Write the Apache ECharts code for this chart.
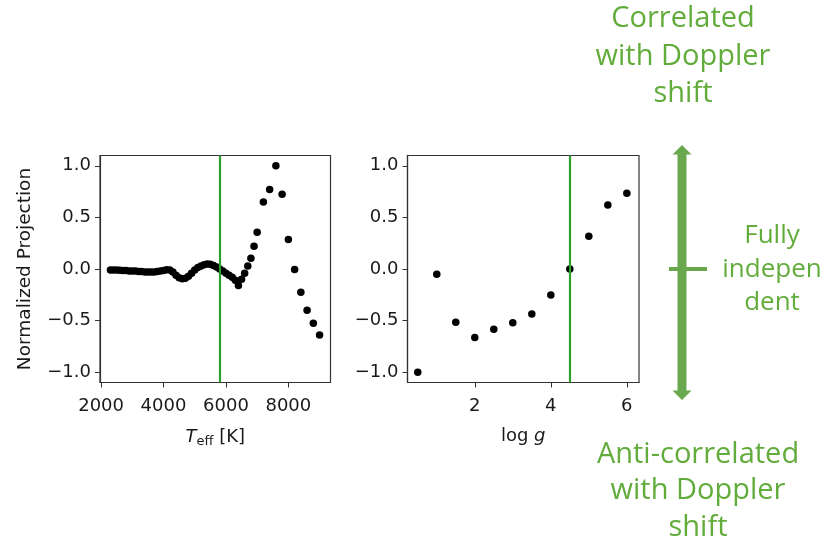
<!DOCTYPE html>
<html>
<head>
<meta charset="utf-8">
<script src="https://cdn.jsdelivr.net/npm/echarts@6/dist/echarts.min.js"></script>
<style>
  html, body { margin: 0; padding: 0; background: #fff; }
  #chart { width: 829px; height: 545px; }
</style>
</head>
<body>
<div id="chart"></div>
<script>
// effective temperature grid [K] and normalized projection
const teff = [
  2300, 2400, 2500, 2600, 2700, 2800, 2900, 3000, 3100, 3200,
  3300, 3400, 3500, 3600, 3700, 3800, 3900, 4000, 4100, 4200,
  4300, 4400, 4500, 4600, 4700, 4800, 4900, 5000, 5100, 5200,
  5300, 5400, 5500, 5600, 5700, 5800, 5900, 6000, 6100, 6200,
  6300, 6400, 6500, 6600, 6700, 6800, 6900, 7000,
  7200, 7400, 7600, 7800, 8000, 8200, 8400, 8600, 8800, 9000
];
const teffProj = [
  -0.01, -0.01, -0.01, -0.012, -0.015, -0.015, -0.02, -0.02, -0.02, -0.025,
  -0.025, -0.03, -0.03, -0.03, -0.03, -0.025, -0.02, -0.015, -0.008, -0.01,
  -0.03, -0.06, -0.085, -0.095, -0.09, -0.07, -0.04, -0.01, 0.015, 0.03,
  0.04, 0.048, 0.045, 0.035, 0.02, 0.0, -0.02, -0.04, -0.06, -0.08,
  -0.11, -0.16, -0.10, -0.04, 0.03, 0.105, 0.22, 0.355,
  0.65, 0.77, 1.0, 0.725, 0.285, -0.005, -0.225, -0.40, -0.525, -0.64
];
// surface gravity grid and normalized projection
const logg = [0.5, 1.0, 1.5, 2.0, 2.5, 3.0, 3.5, 4.0, 4.5, 5.0, 5.5, 6.0];
const loggProj = [-1.0, -0.05, -0.515, -0.665, -0.585, -0.522, -0.435, -0.252, 0.0, 0.317, 0.62, 0.735];

const refTeff = 5800;
const refLogg = 4.5;

const teffTicks = [2000, 4000, 6000, 8000];
const loggTicks = [2, 4, 6];
const projTicks = [-1.0, -0.5, 0.0, 0.5, 1.0];

const ink = '#1a1a1a';
const frame = '#333';
const lineGreen = '#2ca02c';
const noteGreen = '#62ac3c';
const arrowGreen = '#6aa84f';
const font = 'DejaVu Sans';
const noteFont = '29px "Open Sans"';

function fmt(v) {
  return (v < 0 ? '\u2212' : '') + Math.abs(v).toFixed(1);
}

function xAxisOpt(idx, min, max, ticks, name, gap, rich) {
  return {
    type: 'value',
    gridIndex: idx,
    min: min,
    max: max,
    splitLine: { show: false },
    axisLine: { show: true, onZero: false, lineStyle: { color: frame, width: 1.2 } },
    axisTick: { show: true, length: 5, customValues: ticks, lineStyle: { color: frame } },
    axisLabel: {
      customValues: ticks,
      margin: 15,
      color: ink,
      fontFamily: font,
      fontSize: 18,
      formatter: v => String(v)
    },
    name: name,
    nameLocation: 'middle',
    nameGap: gap,
    nameTextStyle: { color: ink, fontFamily: font, fontSize: 18, rich: rich }
  };
}

function yAxisOpt(idx, name) {
  return {
    type: 'value',
    gridIndex: idx,
    min: -1.1,
    max: 1.1,
    splitLine: { show: false },
    axisLine: { show: true, onZero: false, lineStyle: { color: frame, width: 1.2 } },
    axisTick: { show: true, length: 5, customValues: projTicks, lineStyle: { color: frame } },
    axisLabel: {
      customValues: projTicks,
      margin: 9,
      color: ink,
      fontFamily: font,
      fontSize: 18,
      formatter: fmt
    },
    name: name,
    nameLocation: 'middle',
    nameRotate: 90,
    nameGap: 65,
    nameTextStyle: { color: ink, fontFamily: font, fontSize: 18.5 }
  };
}

const chart = echarts.init(document.getElementById('chart'));

const option = {
  backgroundColor: '#fff',
  animation: false,
  grid: [
    { left: 100, top: 155.5, width: 230.5, height: 227, show: true, borderColor: frame, borderWidth: 1.2 },
    { left: 407.5, top: 155.5, width: 231.5, height: 227, show: true, borderColor: frame, borderWidth: 1.2 }
  ],
  xAxis: [
    xAxisOpt(0, 1965, 9350, teffTicks, '{i|T}{s|eff} [K]', 43, {
      i: { fontFamily: font, fontSize: 18, fontStyle: 'italic', color: ink },
      s: { fontFamily: font, fontSize: 13, color: ink, padding: [10, 0, 0, 0] }
    }),
    xAxisOpt(1, 0.23, 6.32, loggTicks, 'log {i|g}', 45, {
      i: { fontFamily: font, fontSize: 18, fontStyle: 'italic', color: ink }
    })
  ],
  yAxis: [
    yAxisOpt(0, 'Normalized Projection'),
    yAxisOpt(1, '')
  ],
  series: [
    {
      type: 'scatter',
      xAxisIndex: 0,
      yAxisIndex: 0,
      symbolSize: 7.5,
      itemStyle: { color: '#000', opacity: 1 },
      data: teff.map((t, i) => [t, teffProj[i]]),
      markLine: {
        silent: true,
        symbol: 'none',
        label: { show: false },
        lineStyle: { color: lineGreen, width: 2.2, type: 'solid', opacity: 1 },
        data: [{ xAxis: refTeff }]
      },
      z: 3
    },
    {
      type: 'scatter',
      xAxisIndex: 1,
      yAxisIndex: 1,
      symbolSize: 7.5,
      itemStyle: { color: '#000', opacity: 1 },
      data: logg.map((g, i) => [g, loggProj[i]]),
      markLine: {
        silent: true,
        symbol: 'none',
        label: { show: false },
        lineStyle: { color: lineGreen, width: 2.2, type: 'solid', opacity: 1 },
        data: [{ xAxis: refLogg }]
      },
      z: 3
    }
  ],
  graphic: [
    // double arrow with centre mark
    {
      type: 'polygon',
      shape: {
        points: [
          [682, 145], [691.5, 154.5], [686.5, 154.5], [686.5, 390.5], [691.5, 390.5],
          [682, 400], [672.5, 390.5], [677.5, 390.5], [677.5, 154.5], [672.5, 154.5]
        ]
      },
      style: { fill: arrowGreen }
    },
    {
      type: 'rect',
      shape: { x: 669, y: 267, width: 38, height: 4 },
      style: { fill: arrowGreen }
    },
    {
      type: 'text',
      x: 683,
      y: 0,
      style: {
        text: 'Correlated\nwith Doppler\nshift',
        fill: noteGreen,
        font: noteFont,
        align: 'center',
        verticalAlign: 'top',
        lineHeight: 37.5
      }
    },
    {
      type: 'text',
      x: 698,
      y: 436,
      style: {
        text: 'Anti-correlated\nwith Doppler\nshift',
        fill: noteGreen,
        font: noteFont,
        align: 'center',
        verticalAlign: 'top',
        lineHeight: 36.5
      }
    },
    {
      type: 'text',
      x: 772,
      y: 219,
      style: {
        text: 'Fully\nindepen\ndent',
        fill: noteGreen,
        font: '26px "Open Sans"',
        align: 'center',
        verticalAlign: 'top',
        lineHeight: 33.5
      }
    }
  ]
};

chart.setOption(option);
</script>
</body>
</html>
